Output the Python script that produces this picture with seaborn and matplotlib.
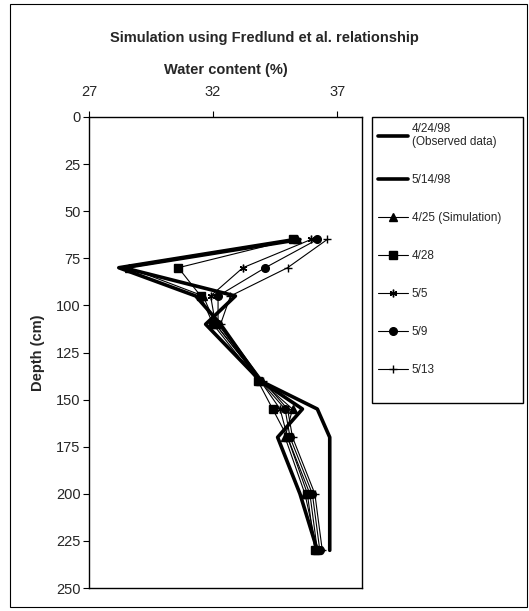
import pandas as pd
import matplotlib
matplotlib.use('Agg')
import matplotlib.pyplot as plt
import seaborn as sns
from matplotlib.patches import Rectangle

# Глубины (см) и влажность (%) по датам
depth = [65, 80, 95, 110, 140, 155, 170, 200, 230]
obs_0424 = [35.3, 28.2, 31.3, 32.3, 33.9, 35.6, 34.6, 35.5, 36.2]
obs_0514 = [35.5, 28.4, 32.9, 31.7, 33.9, 36.2, 36.7, 36.7, 36.7]
sim_0425 = [35.4, 28.6, 31.6, 32.1, 33.9, 35.2, 34.9, 35.7, 36.2]
sim_0428 = [35.2, 30.6, 31.5, 32.0, 33.8, 34.4, 35.0, 35.8, 36.1]
sim_0505 = [35.95, 33.2, 31.9, 32.1, 33.9, 34.7, 35.0, 35.9, 36.2]
sim_0509 = [36.2, 34.1, 32.2, 32.2, 33.9, 34.9, 35.1, 36.0, 36.3]
sim_0513 = [36.6, 35.0, 32.7, 32.3, 34.0, 35.0, 35.2, 36.1, 36.4]

labels = ['4/24/98\n(Observed data)', '5/14/98', '4/25 (Simulation)',
          '4/28', '5/5', '5/9', '5/13']
series = [obs_0424, obs_0514, sim_0425, sim_0428, sim_0505, sim_0509, sim_0513]
markers = [None, None, '^', 's', (6, 2, 0), 'o', '+']

sns.set_style('white')
plt.rcParams['font.family'] = ['Liberation Sans', 'DejaVu Sans']

fig = plt.figure(figsize=(5.29, 6.11), dpi=100)
ax = fig.add_axes([89/529, 1-588/611, (362-89)/529, (588-117)/611])

for lab, vals, mk in zip(labels, series, markers):
    d = pd.DataFrame({'wc': vals, 'depth': depth})
    if mk is None:
        sns.lineplot(data=d, x='wc', y='depth', sort=False, estimator=None,
                     color='black', lw=2.6, ax=ax, label=lab)
    else:
        sns.lineplot(data=d, x='wc', y='depth', sort=False, estimator=None,
                     color='black', lw=0.8, marker=mk, markersize=5.5,
                     markeredgecolor='black', markeredgewidth=1.0, ax=ax, label=lab)

ax.set_xlim(27, 38)
ax.set_ylim(250, 0)
ax.set_xticks([27, 32, 37])
ax.set_yticks(range(0, 251, 25))
ax.xaxis.tick_top()
ax.xaxis.set_label_position('top')
ax.tick_params(axis='both', labelsize=10.5, length=4, width=0.8, direction='out',
               color='black', top=True, left=True, bottom=False)
ax.tick_params(axis='x', pad=9)
ax.tick_params(axis='y', pad=2)
ax.set_xlabel('Water content (%)', fontsize=10.5, fontweight='bold', labelpad=8)
ax.set_ylabel('Depth (cm)', fontsize=10.5, fontweight='bold', labelpad=8)
for s in ax.spines.values():
    s.set_color('black')
    s.set_linewidth(1.0)

handles, labs = ax.get_legend_handles_labels()
ax.get_legend().remove()
fig.legend(handles, labs, loc='upper left',
           bbox_to_anchor=(374/529, 1-119/611), frameon=False,
           fontsize=8.5, labelspacing=2.2, handlelength=2.6, handletextpad=0.3,
           borderpad=0.3, borderaxespad=0)
# рамка легенды (в оригинале ниже последней строки)
fig.patches.append(Rectangle((372/529, 1-403/611), 151/529, 286/611, transform=fig.transFigure,
                             fill=False, edgecolor='black', lw=1.0))

fig.text(264/529, 1-38/611, 'Simulation using Fredlund et al. relationship',
         ha='center', va='center', fontsize=10.5, fontweight='bold')

fig.patches.append(Rectangle((10/529, 4/611), 517/529, 603/611, transform=fig.transFigure,
                             fill=False, edgecolor='black', lw=0.8))

fig.savefig('out.png', dpi=100)
